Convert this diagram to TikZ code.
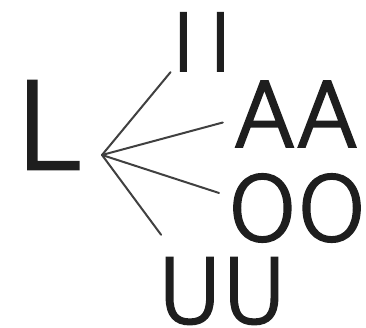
\documentclass[tikz,border=0pt]{standalone}
\usepackage{fontspec}
\usetikzlibrary{positioning}
\newfontfamily\handfont{DejaVuSans-ExtraLight.ttf}[FakeBold=4]
\definecolor{inkblack}{RGB}{30,30,30}
\definecolor{pencilgrey}{RGB}{64,64,64}

\begin{document}
\begin{tikzpicture}[x=1pt, y=1pt,
  letter/.style={inner sep=0pt, text=inkblack, font=\handfont\fontsize{88}{88}\selectfont},
  bigletter/.style={letter, font=\handfont\fontsize{118}{118}\selectfont},
  spoke/.style={draw=pencilgrey, line width=2pt, line cap=round}
]
  \useasboundingbox (0,0) rectangle (366,328);

  % consonant and the point where the vowels branch off
  \node[bigletter] (ell) at (48,203) {L};
  \coordinate (hub) at (102,173);

  % vowels
  \node[letter, font=\handfont\fontsize{78}{78}\selectfont] (ii) at (202,286) {I\hspace{14pt}I};
  \node[letter] (aa) at (296,214) {AA};
  \node[letter] (oo) at (297,120) {OO};
  \node[letter] (uu) at (222,37) {UU};

  \draw[spoke, shorten >=2pt] (hub) -- (ii.south west);
  \draw[spoke, shorten >=12pt] (hub) -- (aa.185);
  \draw[spoke, shorten >=9pt] (hub) -- (oo.170);
  \draw[spoke, shorten >=29pt] (hub) -- (uu.143);
\end{tikzpicture}
\end{document}
